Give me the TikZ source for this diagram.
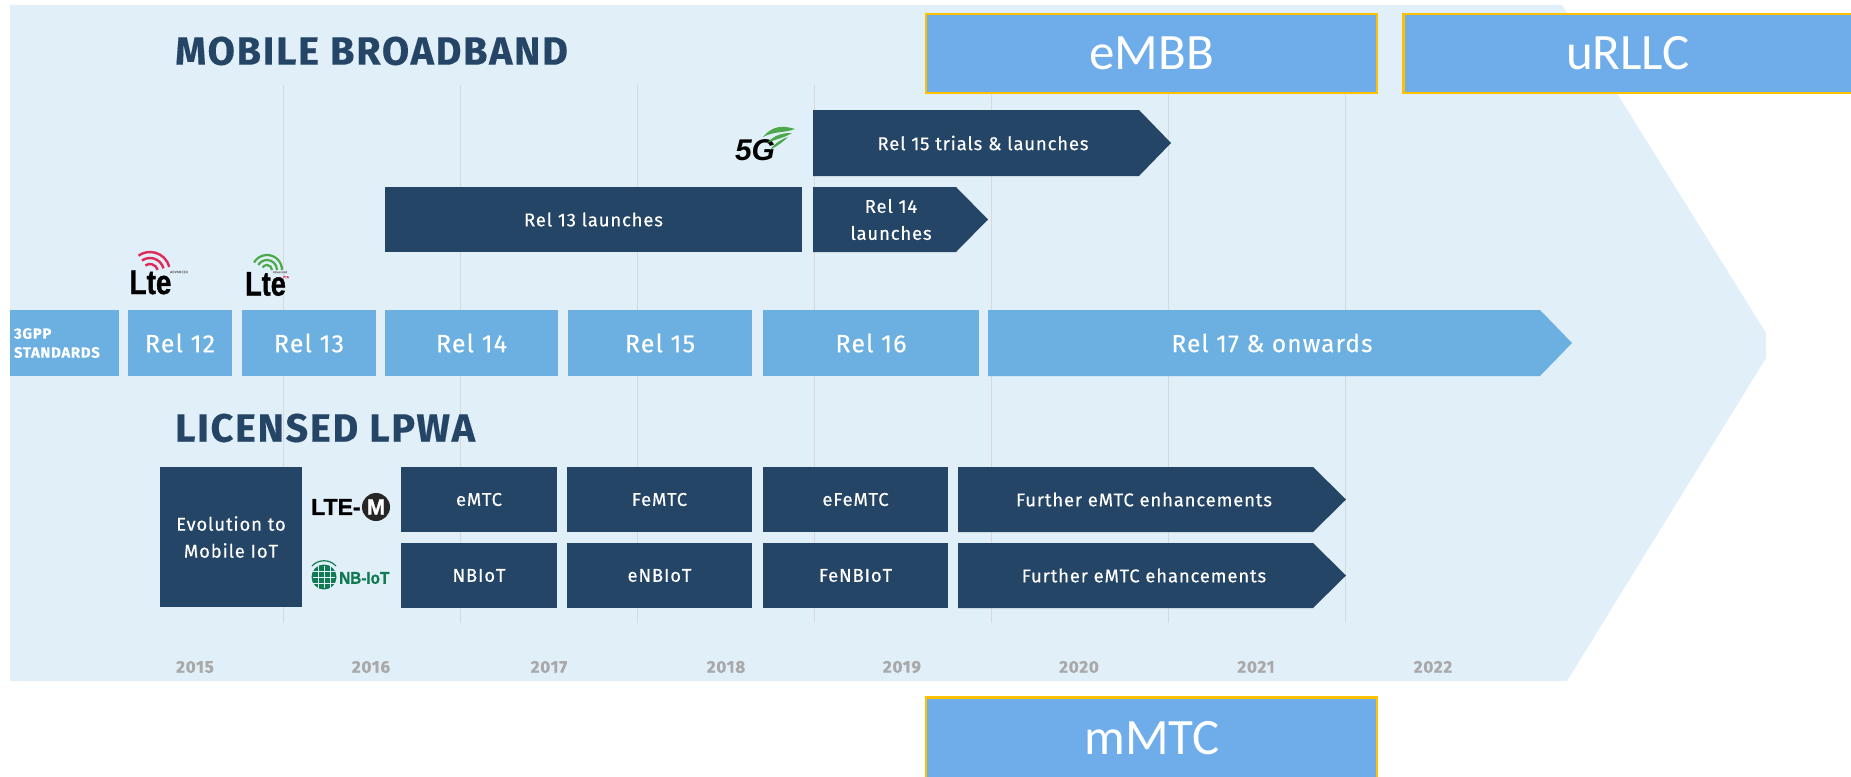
\documentclass[tikz,border=0pt]{standalone}
\usepackage{fontspec}
\setmainfont{Fira Sans}[LetterSpace=4.5,FakeBold=0.3]
\newfontfamily\calfont{Carlito}
\newfontfamily\logofont{Liberation Sans}[BoldFeatures={FakeBold=1.2}]
\definecolor{bgblue}{HTML}{E1EFF9}
\definecolor{relblue}{HTML}{6CB0E2}
\definecolor{darkblue}{HTML}{254566}
\definecolor{tagblue}{HTML}{6EACEA}
\definecolor{tagedge}{HTML}{FFC000}
\definecolor{gridgray}{HTML}{D6D8DA}
\definecolor{yeargray}{HTML}{A9A9A9}
\definecolor{ltered}{HTML}{DE2A55}
\definecolor{ltegreen}{HTML}{4BA84B}
\definecolor{iotgreen}{HTML}{127A52}
\tikzset{
  relbox/.style={fill=relblue, text=white, inner sep=0pt, align=center, font=\fontsize{25}{28}\selectfont},
  darkbox/.style={fill=darkblue, text=white, inner sep=0pt, align=center, font=\fontsize{18.5}{27}\selectfont},
  tagbox/.style={fill=tagblue, draw=tagedge, line width=2.5pt, text=white, inner sep=0pt, font=\calfont\fontsize{51}{54}\selectfont},
  tagtext/.style={text=white, inner sep=0pt, font=\calfont\fontsize{51}{54}\selectfont},
  arrowtext/.style={text=white, inner sep=0pt, align=center},
  title/.style={text=darkblue, inner sep=0pt, font=\bfseries\fontsize{39.5}{42}\selectfont},
  year/.style={text=yeargray, inner sep=0pt, font=\bfseries\fontsize{17}{18}\selectfont},
  lteword/.style={inner sep=0pt, font=\logofont\bfseries\fontsize{34}{34}\selectfont},
}
\begin{document}
\begin{tikzpicture}[x=1pt, y=-1pt]
  \useasboundingbox (0,0) rectangle (1851,776);
  \fill[bgblue] (10,5) -- (1562,5) -- (1766,333) -- (1766,358) -- (1567,681) -- (10,681) -- cycle; % Backdrop
  \foreach \gx in {283,460,637,814,991,1168,1345}
    \draw[gridgray, line width=1pt] (\gx,85) -- (\gx,623);

  \node[title, anchor=west] (mobile) at (175,51) {MOBILE BROADBAND};
  \node[title, anchor=west] (licensed) at (175,428) {LICENSED LPWA};

  \node[tagbox, minimum width=451pt, minimum height=79pt] (embb) at (1151.5,53.5) {eMBB};
  \node[tagbox, minimum width=460pt, minimum height=79pt, anchor=west] (urllc) at (1402,53.5) {};
  \node[tagtext] (urllctext) at (1628,53.5) {uRLLC};
  \node[tagbox, minimum width=451pt, minimum height=90pt, anchor=north] (mmtc) at (1151.5,696) {};
  \node[tagtext] (mmtctext) at (1152,738) {mMTC};

  % Upper releases
  \fill[darkblue] (813,110) -- (1139,110) -- (1171,143) -- (1139,176) -- (813,176) -- cycle;
  \node[arrowtext, font=\fontsize{18.5}{27}\selectfont] (rel15trials) at (983,143) {Rel 15 trials \& launches};
  \node[darkbox, minimum width=417pt, minimum height=65pt] (rel13launch) at (593.5,219.5) {Rel 13 launches};
  \fill[darkblue] (813,187) -- (956,187) -- (988,219.5) -- (956,252) -- (813,252) -- cycle;
  \node[arrowtext, font=\fontsize{18.5}{27}\selectfont] (rel14launch) at (891,219.5) {Rel 14\\launches};

  % Standards row
  \node[relbox, minimum width=109pt, minimum height=66pt, text width=101pt, font=\bfseries\fontsize{15}{19}\selectfont, align=left] (std) at (64.5,343) {3GPP\\STANDARDS};
  \node[relbox, minimum width=104pt, minimum height=66pt] (rel12) at (180,343) {Rel 12};
  \node[relbox, minimum width=134pt, minimum height=66pt] (rel13) at (309,343) {Rel 13};
  \node[relbox, minimum width=173pt, minimum height=66pt] (rel14) at (471.5,343) {Rel 14};
  \node[relbox, minimum width=184pt, minimum height=66pt] (rel15) at (660,343) {Rel 15};
  \node[relbox, minimum width=216pt, minimum height=66pt] (rel16) at (871,343) {Rel 16};
  \fill[relblue] (988,310) -- (1540,310) -- (1572,343) -- (1540,376) -- (988,376) -- cycle;
  \node[arrowtext, font=\fontsize{24.5}{28}\selectfont] (rel17) at (1272,343) {Rel 17 \& onwards};

  % Licensed rows
  \node[darkbox, minimum width=142pt, minimum height=140pt] (evolution) at (231,537) {Evolution to\\Mobile IoT};
  \node[darkbox, minimum width=156pt, minimum height=65pt] (emtc) at (479,499.5) {eMTC};
  \node[darkbox, minimum width=185pt, minimum height=65pt] (femtc) at (659.5,499.5) {FeMTC};
  \node[darkbox, minimum width=185pt, minimum height=65pt] (efemtc) at (855.5,499.5) {eFeMTC};
  \fill[darkblue] (958,467) -- (1313,467) -- (1346,499.5) -- (1313,532) -- (958,532) -- cycle;
  \node[arrowtext, font=\fontsize{18.5}{27}\selectfont] (furthera) at (1144,499.5) {Further eMTC enhancements};
  \node[darkbox, minimum width=156pt, minimum height=65pt] (nbiot) at (479,575.5) {NBIoT};
  \node[darkbox, minimum width=185pt, minimum height=65pt] (enbiot) at (659.5,575.5) {eNBIoT};
  \node[darkbox, minimum width=185pt, minimum height=65pt] (fenbiot) at (855.5,575.5) {FeNBIoT};
  \fill[darkblue] (958,543) -- (1313,543) -- (1346,575.5) -- (1313,608) -- (958,608) -- cycle;
  \node[arrowtext, font=\fontsize{18.5}{27}\selectfont] (furtherb) at (1144,575.5) {Further eMTC ehancements};

  % Years
  \node[year] (y15) at (195,667) {2015};
  \node[year] (y16) at (371,667) {2016};
  \node[year] (y17) at (549,667) {2017};
  \node[year] (y18) at (726,667) {2018};
  \node[year] (y19) at (902,667) {2019};
  \node[year] (y20) at (1079,667) {2020};
  \node[year] (y21) at (1256,667) {2021};
  \node[year] (y22) at (1433,667) {2022};

  % LTE logos
  \node[lteword] (ltea) at (150.5,282.5) {\scalebox{.82}[1]{Lte}};
  \node[inner sep=0pt, text=gray, font=\fontsize{3.5}{4}\selectfont] (advtext) at (179,272) {ADVANCED};
  \foreach \rr in {8,14,20}
    \draw[ltered, line width=2.4pt] (150,272) ++(15:\rr pt) arc (15:125:\rr pt);
  \node[lteword] (lteb) at (265.5,284) {\scalebox{.8}[1]{Lte}};
  \node[inner sep=0pt, text=gray, font=\fontsize{3}{4}\selectfont] (protext) at (280,272) {Advanced};
  \node[inner sep=0pt, text=ltered, font=\fontsize{3.5}{4}\selectfont] (prored) at (286,277) {Pro};
  \foreach \rr in {5,10,15}
    \draw[ltegreen, line width=2.2pt] (267,270) ++(0:\rr pt) arc (0:150:\rr pt);

  % 5G logo
  \node[inner sep=0pt, font=\logofont\bfseries\itshape\fontsize{30}{30}\selectfont] (fiveg) at (755,150) {5G};
  \fill[ltegreen] (763,137) .. controls (772,126) and (782,125) .. (795,129) .. controls (785,133) and (774,131) .. cycle;
  \fill[ltegreen] (767,143) .. controls (775,134) and (784,133) .. (792,133) .. controls (784,138) and (776,139) .. cycle;
  \fill[ltegreen] (770,150) .. controls (776,142) and (782,139) .. (788,137) .. controls (782,143) and (777,146) .. cycle;

  % LTE-M logo
  \node[inner sep=0pt, anchor=west, font=\logofont\bfseries\fontsize{23}{24}\selectfont] (ltem) at (311,507) {LTE-};
  \node[circle, fill=black!85, minimum size=28pt, inner sep=0pt, text=white, font=\logofont\bfseries\fontsize{22}{22}\selectfont] (mcircle) at (376,507) {M};

  % NB-IoT logo
  \node[circle, fill=iotgreen, minimum size=25pt, inner sep=0pt] (globe) at (324,577) {};
  \foreach \gy in {-6,0,6}
    \draw[bgblue, line width=.8pt] (324-11,577+\gy) -- (324+11,577+\gy);
  \foreach \gy in {-6,0,6}
    \draw[bgblue, line width=.8pt] (324+\gy,577-11) -- (324+\gy,577+11);
  \draw[iotgreen, line width=1.2pt] (312,566) .. controls (318,559) and (330,559) .. (336,566);
  \node[inner sep=0pt, anchor=west, text=iotgreen, font=\logofont\bfseries\fontsize{17}{19}\selectfont] (nbword) at (339,578) {\scalebox{.9}[1]{NB-IoT}};
\end{tikzpicture}
\end{document}
